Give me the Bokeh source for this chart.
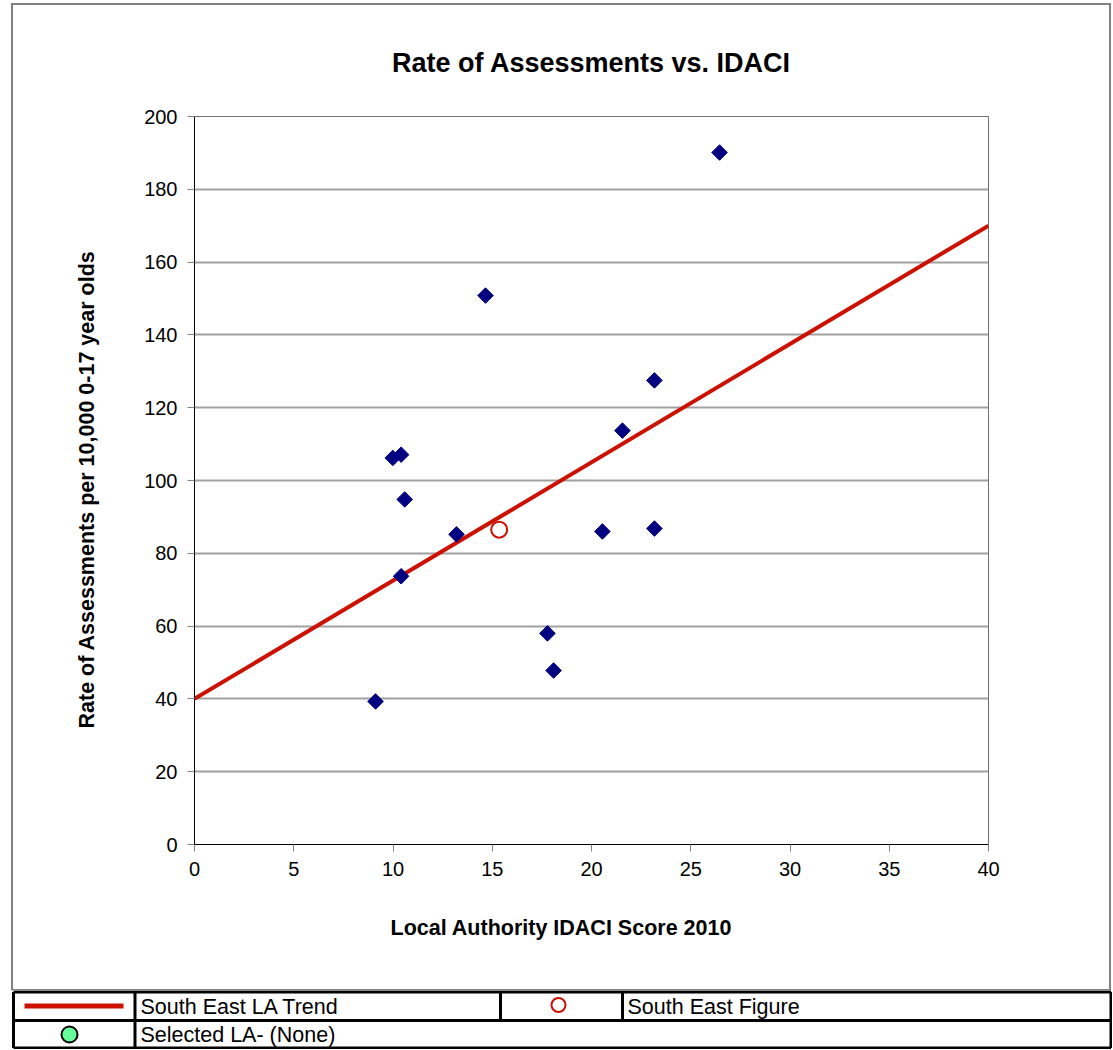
from bokeh.plotting import figure
from bokeh.models import (Range1d, SingleIntervalTicker, Title, ColumnDataSource)
from bokeh.layouts import column, row
from bokeh.core.properties import value
from bokeh.embed import file_html
from bokeh.resources import INLINE
import math

# ---- data ----
idaci = [26.45, 14.66, 23.17, 21.56, 9.99, 10.41, 10.59, 13.2, 20.55, 23.17, 10.41, 17.78, 18.09, 9.12]
rate = [190.1, 150.8, 127.5, 113.7, 106.2, 107.1, 94.8, 85.2, 86.0, 86.8, 73.7, 58.0, 47.8, 39.3]
se_x = [15.35]
se_y = [86.5]
trend_x = [0, 40]
trend_y = [40, 170]

title_text = "Rate of Assessments vs. IDACI"
x_label = "Local Authority IDACI Score 2010"
y_label = "Rate of Assessments per 10,000 0-17 year olds"
legend_texts = ["South East LA Trend", "South East Figure", "Selected LA- (None)"]

FONT = "Liberation Sans"
W = 1112
# main chart box: page x 13..1109, y 5..989
PX0, PY0 = 13, 5
PW, PH = 1096, 984
H_LEG = 59

p = figure(width=PW, height=PH, output_backend="svg", toolbar_location=None,
           x_range=Range1d(0, 40), y_range=Range1d(0, 200),
           min_border_left=194 - PX0, min_border_right=PX0 + PW - 988,
           min_border_top=116 - PY0, min_border_bottom=PY0 + PH - 844)
p.margin = (PY0, 0, 1, PX0)
p.styles = {"outline": "2px solid #808080", "outline-offset": "0px"}
p.background_fill_color = "white"
p.border_fill_color = "white"
p.outline_line_color = "#707070"
p.outline_line_width = 1

t = Title(text=title_text, align="center", text_font=FONT, text_font_size="27px",
          text_font_style="bold", text_color="black", standoff=78)
p.add_layout(t, "above")

p.xaxis.ticker = SingleIntervalTicker(interval=5)
p.yaxis.ticker = SingleIntervalTicker(interval=20)
for ax in (p.xaxis, p.yaxis):
    ax.minor_tick_line_color = None
    ax.major_tick_in = 0
    ax.major_tick_out = 7
    ax.major_tick_line_color = "#808080"
    ax.axis_line_color = "black"
    ax.axis_line_width = 1
    ax.major_label_text_font = FONT
    ax.major_label_text_font_size = "20px"
    ax.major_label_text_color = "black"
p.xaxis.major_label_standoff = 10
p.yaxis.major_label_standoff = 10

xt = Title(text=x_label, align="left", offset=196, text_font=FONT, text_font_size="21.5px",
           text_font_style="bold", text_color="black", standoff=70)
p.add_layout(xt, "below")
yt = Title(text=y_label, align="left", offset=116, text_font=FONT, text_font_size="21.5px",
           text_font_style="bold", text_color="black", standoff=85)
p.add_layout(yt, "left")

p.xgrid.grid_line_color = None
p.ygrid.grid_line_color = "#a0a0a0"
p.ygrid.grid_line_width = 2

p.line(trend_x, trend_y, line_color="#CC1100", line_width=4)
p.scatter(idaci, rate, marker="square", size=11, angle=math.pi / 4,
          fill_color="#000080", line_color="#000080")
p.scatter(se_x, se_y, marker="circle", size=16, fill_color="white",
          line_color="#CC1100", line_width=2)

# ---- legend table ----
lg = figure(width=W, height=H_LEG, output_backend="svg", toolbar_location=None,
            x_range=Range1d(0, W), y_range=Range1d(H_LEG, 0),
            min_border=0, min_border_left=0, min_border_right=0,
            min_border_top=0, min_border_bottom=0)
lg.axis.visible = False
lg.xgrid.visible = False
lg.ygrid.visible = False
lg.outline_line_color = None
lg.background_fill_color = "white"
lg.border_fill_color = "white"

top, mid, bot = 1.5, 30.0, 57.5
left, right = 13, 1110.5
c1, c2, c3 = 134.5, 500, 622
seg = dict(x0=[left, left, left, left, right, c1, c2, c3],
           y0=[top, mid, bot, top, top, top, top, top],
           x1=[right, right, right, left, right, c1, c2, c3],
           y1=[top, mid, bot, bot, bot, bot, mid, mid])
lg.segment(x0="x0", y0="y0", x1="x1", y1="y1", source=ColumnDataSource(seg),
           line_color="black", line_width=3)

lg.line([24, 123], [15.5, 15.5], line_color="#CC1100", line_width=5)
lg.scatter([558], [14.5], marker="circle", size=14, fill_color="white",
           line_color="#CC1100", line_width=2)
lg.scatter([69], [44], marker="circle", size=16, fill_color="#66FF99",
           line_color="black", line_width=2)
lg.text(x=[140, 627, 140], y=[16, 16, 44.5], text=legend_texts,
        text_font=value(FONT), text_font_size="21.5px", text_color="black",
        text_baseline="middle", text_align="left")

layout = column(row(p), row(lg), spacing=0)
open("out.html", "w").write(file_html(layout, INLINE))
